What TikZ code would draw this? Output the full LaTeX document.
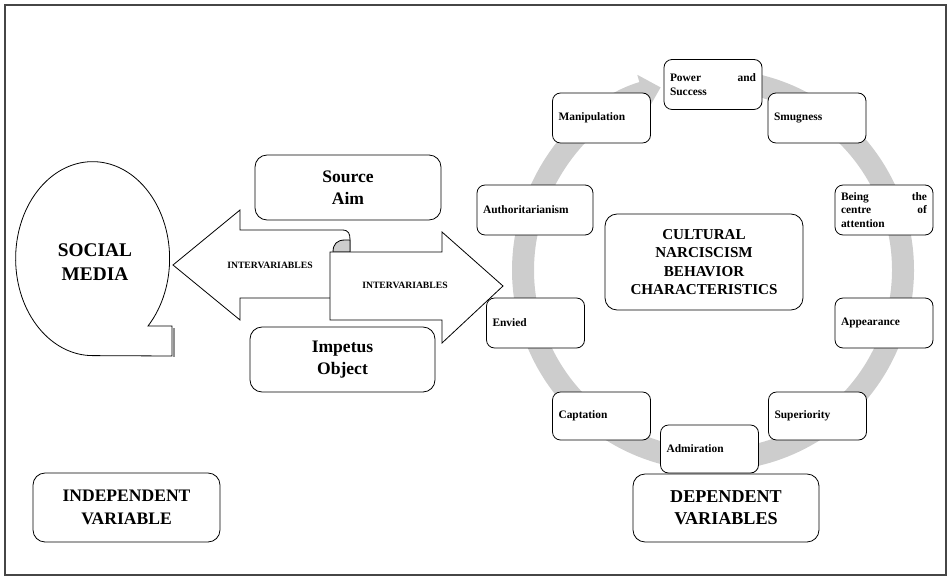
\documentclass[tikz,border=0pt]{standalone}
\usepackage{fontspec}
\setmainfont{Liberation Serif}
\usetikzlibrary{arrows.meta}

\begin{document}
\begin{tikzpicture}[x=0.02cm,y=0.02cm,
    bigbox/.style={draw,line width=0.016cm,rounded corners=0.24cm,fill=white,align=center,inner sep=0pt,font=\bfseries\fontsize{10}{12.5}\selectfont},
    itembox/.style={draw,line width=0.016cm,rounded corners=0.16cm,fill=white,align=left,inner xsep=0.12cm,inner ysep=0pt,text width=1.72cm,minimum height=1.0cm,font=\bfseries\fontsize{6.5}{7.6}\selectfont},
    arrowtext/.style={font=\bfseries\fontsize{5.5}{6}\selectfont}]
    \useasboundingbox (0,0) rectangle (949,-577);

    % Changing color 70 70 70
    \definecolor{r70g70b70}{rgb}{0.274510,0.274510,0.274510}%

    % Drawing frame
    \draw [r70g70b70, line width=0.05cm] (5,-5) rectangle (946,-575);%

    % Changing color 205 205 205
    \definecolor{r205g205b205}{rgb}{0.803922,0.803922,0.803922}%

    % Drawing ring arrow
    \coordinate (ringc) at (713,-270);
    \draw [r205g205b205, line width=0.44cm, -{Triangle[width=0.72cm,length=0.38cm]}] ([shift={(78:3.8cm)}]ringc) arc[start angle=78, end angle=-254, radius=3.8cm];%

    % Drawing speech bubble
    \draw [line width=0.016cm, fill=white] (172,-326) -- (148,-326) arc[start angle=-44, end angle=270, x radius=1.54cm, y radius=1.94cm] -- (172,-356) -- cycle;%
    \draw [r70g70b70!60, line width=0.04cm] (174,-328) -- (174,-357);%
    \node [font=\bfseries\fontsize{11}{14}\selectfont, align=center] (social) at (95,-262) {SOCIAL\\MEDIA};

    % Drawing arrow to the left
    \draw [line width=0.016cm, fill=white] (173,-265) -- (240,-210) -- (240,-230) -- (342,-230) .. controls (349,-230) and (350,-234) .. (350,-240) -- (350,-298) -- (240,-298) -- (240,-320) -- cycle;%
    \draw [line width=0.016cm, fill=r205g205b205] (333,-252) .. controls (333,-244) and (337,-240) .. (345,-240) -- (350,-240) -- (350,-252) -- cycle;%
    \node [arrowtext] (leftlbl) at (270,-265) {INTERVARIABLES};

    % Drawing arrow to the right
    \draw [line width=0.016cm, fill=white] (330,-252) -- (442,-252) -- (442,-232) -- (503,-286) -- (442,-343) -- (442,-320) -- (330,-320) -- cycle;%
    \node [arrowtext] (rightlbl) at (405,-285) {INTERVARIABLES};

    % Drawing intervening boxes
    \node [bigbox, minimum width=3.72cm, minimum height=1.30cm] (srcaim) at (348,-187.5) {Source\\Aim};
    \node [bigbox, minimum width=3.70cm, minimum height=1.30cm] (impobj) at (342.5,-359.5) {Impetus\\Object};

    % Drawing characteristics on the ring
    \node [itembox] (power) at (713,-84.5) {Power\hfill and\\Success};
    \node [itembox] (smug) at (817,-118) {Smugness};
    \node [itembox] (manip) at (601.5,-118) {Manipulation};
    \node [itembox, text width=2.08cm] (auth) at (535,-210) {Authoritarianism};
    \node [itembox] (being) at (884,-210) {Being\hfill the\\centre\hfill of\\attention};
    \node [itembox] (envied) at (535.5,-323) {Envied};
    \node [itembox] (appear) at (884,-323) {Appearance};
    \node [itembox, minimum height=0.96cm] (capt) at (601.5,-416) {Captation};
    \node [itembox, minimum height=0.96cm] (super) at (817.5,-416) {Superiority};
    \node [itembox, minimum height=0.96cm] (admir) at (709.5,-449) {Admiration};

    % Drawing centre box
    \node [bigbox, minimum width=3.96cm, minimum height=1.92cm, font=\bfseries\fontsize{8.6}{10.5}\selectfont] (culture) at (704,-262) {CULTURAL\\NARCISCISM\\BEHAVIOR\\CHARACTERISTICS};

    % Drawing variable boxes
    \node [bigbox, minimum width=3.72cm, minimum height=1.36cm, font=\bfseries\fontsize{10.3}{12.5}\selectfont] (depvar) at (726,-508) {DEPENDENT\\VARIABLES};
    \node [bigbox, minimum width=3.74cm, minimum height=1.38cm, font=\bfseries\fontsize{10}{13}\selectfont] (indvar) at (126.5,-507.5) {INDEPENDENT\\VARIABLE};
\end{tikzpicture}
\end{document}
